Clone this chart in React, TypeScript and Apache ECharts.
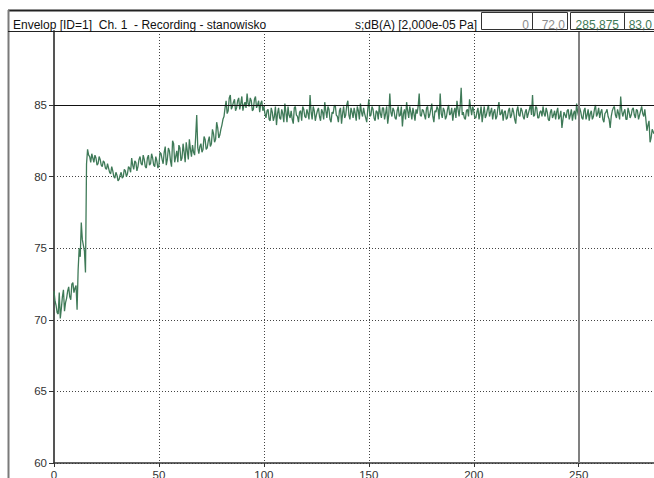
import React, { useEffect, useRef } from 'react';
import * as echarts from 'echarts';

// Envelope level in dB(A), readings on whole seconds (t = 0 .. 100)
const riseLevels = [
  72.0, 71.0, 70.4, 70.1, 71.6, 70.6, 71.5, 72.3, 71.4, 72.6, 72.2, 70.7, 75.0, 76.8, 75.2, 73.3, 81.9,
  81.4, 81.6, 81.0, 81.3, 80.9, 81.2, 80.7, 81.0, 80.5, 80.6, 80.2, 80.4, 79.9, 80.1,
  79.8, 80.3, 80.0, 80.4, 80.2, 80.6, 81.3, 80.5, 81.0, 80.7,
  81.4, 80.8, 81.2, 80.6, 81.5, 80.9, 81.3, 80.7, 81.1, 80.8,
  81.6, 80.9, 82.1, 81.2, 81.8, 80.7, 82.3, 81.4, 81.0, 82.0, 81.3, 81.7, 82.4, 81.2, 81.9, 82.2, 81.5, 84.3,
  81.6, 82.3, 81.9, 82.6, 82.0, 82.8, 82.3, 83.0, 82.6, 83.4, 82.9, 83.6,
  84.2, 85.3, 84.6, 85.7, 84.9, 85.4,
  84.8, 85.5, 85.1, 84.6, 85.2, 85.8, 84.9, 85.3, 84.7, 85.6, 85.0, 84.5, 85.3, 84.9,
];
// whole seconds t = 101 .. 285
const plateauLevels = [
  84.1, 84.7, 83.9, 84.5, 84.2, 83.6, 84.8, 84.0, 84.4, 85.1, 83.8, 84.3, 84.6, 83.7, 84.9, 84.2, 84.5, 83.9, 84.7, 84.1, 84.4, 85.7, 84.0, 84.6, 84.3,
  84.8, 83.9, 84.5, 85.2, 84.1, 84.7, 83.8, 84.4, 85.0, 84.2, 84.6, 83.7, 84.9, 84.3, 85.3, 84.0, 84.5, 84.8, 83.9, 84.6, 85.1, 84.2, 84.4, 83.8, 85.4,
  84.3, 84.7, 83.9, 84.5, 85.0, 84.1, 84.8, 84.4, 83.7, 85.8, 84.2, 84.6, 84.0, 84.9, 84.3, 83.5, 84.7, 85.2, 84.1, 84.5, 84.8, 83.9, 84.4, 85.8, 84.2,
  84.6, 84.0, 84.9, 84.3, 85.1, 83.8, 84.5, 84.7, 85.8, 84.1, 84.6, 84.2, 85.0, 84.4, 83.9, 84.8, 85.3, 84.2, 86.2, 84.5, 84.0, 84.7, 85.4, 84.3, 84.6,
  84.1, 84.8, 84.4, 83.8, 84.9, 84.3, 85.0, 84.5, 84.0, 84.7, 84.2, 85.2, 84.4, 83.9, 84.6, 84.1, 84.8, 84.3, 84.5, 83.7, 84.9, 84.2, 84.6, 84.0, 84.7,
  84.4, 85.0, 85.7, 84.3, 84.8, 84.1, 84.6, 84.9, 84.2, 84.5, 83.9, 84.7, 84.3, 84.0, 84.8, 84.2, 83.4, 84.5, 84.1, 84.7, 84.3, 83.9, 84.6, 85.1, 84.2,
  84.5, 84.0, 84.8, 84.3, 83.9, 84.6, 84.2, 85.0, 84.4, 84.1, 84.7, 83.8, 84.5, 84.2, 83.4, 84.6, 84.9, 84.1, 84.4, 85.6, 84.2, 84.7, 84.0, 84.5, 84.3,
  84.8, 84.1, 84.6, 84.3, 84.9, 84.2, 84.0, 83.6, 82.4, 83.3,
];
// half-second readings t = 0.5 .. 284.5
const midLevels = [
  71.3, 70.5, 71.9, 70.8, 72.1, 71.2, 72.0, 71.6, 72.5, 71.9, 72.4, 73.5, 74.4, 75.6, 74.8, 80.9, 81.5,
  81.0, 81.3, 81.5, 80.8, 81.4, 80.8, 81.1, 80.6, 80.9, 80.3, 80.7, 80.0, 80.3, 79.7,
  80.1, 79.9, 80.5, 80.0, 80.7, 80.3, 80.8, 81.1, 80.4, 81.2,
  80.9, 81.5, 80.7, 81.3, 80.8, 81.6, 80.8, 81.4, 80.6, 81.7,
  81.2, 81.7, 80.8, 82.0, 81.1, 82.5, 81.0, 81.8, 82.2, 81.1, 82.3, 81.0, 81.8, 82.6, 81.4, 81.7, 82.8, 82.0,
  82.1, 81.7, 82.8, 81.9, 82.5, 82.1, 83.3, 82.4, 83.8, 82.7, 83.3, 84.0,
  84.8, 84.4, 85.5, 84.7, 85.2, 84.6,
  85.3, 84.7, 85.6, 85.0, 84.8, 85.1, 85.5, 84.6, 85.4, 84.8, 85.3, 85.1, 84.6, 84.4,
  84.6, 84.0, 84.8, 83.9, 84.9, 84.4, 84.1, 84.7, 83.8, 84.5, 84.9, 84.1, 84.0, 84.8, 84.3, 83.8, 84.6, 84.9, 84.2, 84.7, 84.0, 84.5, 84.9, 83.9, 84.6,
  84.2, 84.7, 84.0, 84.6, 84.9, 84.0, 84.5, 84.9, 84.3, 83.8, 84.8, 84.4, 84.1, 85.0, 84.3, 84.8, 84.1, 84.4, 84.9, 84.0, 84.5, 84.8, 84.1, 84.7, 84.2,
  84.9, 84.1, 84.6, 84.0, 84.4, 84.8, 84.0, 84.9, 84.3, 84.5, 84.8, 84.1, 84.6, 84.2, 84.9, 84.4, 84.0, 84.6, 84.9, 84.0, 84.4, 84.7, 84.9, 84.3, 84.7,
  84.3, 84.8, 84.1, 84.7, 84.2, 84.6, 84.9, 84.0, 84.4, 84.8, 84.0, 84.7, 84.3, 84.8, 84.5, 84.1, 84.7, 84.9, 84.3, 84.1, 84.6, 84.2, 84.8, 84.9, 84.1,
  84.5, 84.0, 84.9, 84.4, 84.1, 84.7, 84.2, 84.8, 84.5, 84.0, 84.8, 84.3, 84.7, 84.5, 84.0, 84.6, 84.1, 84.8, 84.0, 84.6, 84.3, 84.8, 84.2, 84.5, 84.1,
  84.7, 84.3, 84.2, 84.9, 84.1, 84.5, 84.2, 84.4, 84.8, 84.0, 84.5, 84.1, 84.6, 84.5, 84.0, 84.6, 84.0, 84.3, 84.6, 84.0, 84.7, 84.4, 84.0, 84.5, 84.8,
  84.1, 84.6, 84.0, 84.7, 84.4, 84.0, 84.7, 84.2, 84.8, 84.5, 84.0, 84.4, 84.7, 84.0, 84.2, 84.8, 84.3, 84.7, 84.0, 84.6, 84.5, 84.0, 84.8, 84.1, 84.7,
  84.3, 84.7, 84.0, 84.6, 84.4, 84.7, 83.2, 83.9, 82.7,
];
const endTime = 285.875;
const endLevel = 83.0;

const xTicks = [0, 50, 100, 150, 200, 250];
const yTicks = [60, 65, 70, 75, 80, 85];
const cursorTime = 250;
const referenceLevel = 85;

const headerTitle = 'Envelop [ID=1]  Ch. 1  - Recording - stanowisko';
const headerUnit = 's;dB(A) [2,000e-05 Pa]';
const cursorA = ['0', '72,0'];
const cursorB = ['285,875', '83,0'];

const FONT = '"Liberation Sans", Arial, sans-serif';
const GREEN = '#3f7a58';

export default function App() {
  const ref = useRef<HTMLDivElement>(null);
  useEffect(() => {
    if (!ref.current) return;
    const chart = echarts.init(ref.current, null, { renderer: 'svg' });
    const levels = riseLevels.concat(plateauLevels);
    const data: number[][] = [];
    levels.forEach((v, i) => {
      data.push([i, v]);
      if (i < midLevels.length) data.push([i + 0.5, midLevels[i]]);
    });
    data.push([endTime, endLevel]);

    const txt = (x: number, text: string, align: string, fill: string) => ({
      type: 'text',
      x,
      y: 24.5,
      style: { text, fill, font: `12px ${FONT}`, align, verticalAlign: 'middle' },
      z: 10,
    });
    const ln = (x1: number, y1: number, x2: number, y2: number, stroke: string, lineWidth: number) => ({
      type: 'line',
      shape: { x1, y1, x2, y2 },
      style: { stroke, lineWidth },
      z: 10,
    });

    chart.setOption({
      animation: false,
      backgroundColor: '#ffffff',
      grid: { left: 54, top: 31, right: 0, bottom: 15, containLabel: false, outerBoundsMode: 'none' },
      xAxis: {
        type: 'value',
        min: 0,
        max: endTime,
        interval: 50,
        axisLine: { show: true, onZero: false, lineStyle: { color: '#333', width: 1.5 } },
        axisTick: { show: true, length: 4, customValues: xTicks, lineStyle: { color: '#333' } },
        axisLabel: { customValues: xTicks, margin: 6, color: '#333', fontFamily: FONT, fontSize: 11.5 },
        splitLine: { show: true, lineStyle: { color: '#444', type: [1, 2], width: 1 } },
      },
      yAxis: {
        type: 'value',
        min: 60,
        max: 90.17,
        interval: 5,
        axisLine: { show: true, lineStyle: { color: '#555', width: 2 } },
        axisTick: { show: true, length: 5, customValues: yTicks, lineStyle: { color: '#333' } },
        axisLabel: { customValues: yTicks, margin: 7, color: '#333', fontFamily: FONT, fontSize: 11.5 },
        splitLine: { show: true, lineStyle: { color: '#444', type: [1, 2], width: 1 } },
      },
      series: [
        {
          type: 'line',
          data,
          showSymbol: false,
          symbol: 'none',
          lineStyle: { color: GREEN, width: 1.3 },
          clip: true,
          markLine: {
            silent: true,
            symbol: 'none',
            label: { show: false },
            data: [
              { yAxis: referenceLevel, lineStyle: { color: '#111', width: 1, type: 'solid' } },
              { xAxis: cursorTime, lineStyle: { color: '#808080', width: 2, type: 'solid' } },
            ],
          },
        },
      ],
      graphic: [
        ln(8, 10.5, 654, 10.5, '#222', 2),
        ln(8.5, 10, 8.5, 478, '#7a7a7a', 2),
        ln(8, 31.5, 654, 31.5, '#222', 1),
        txt(13, headerTitle, 'left', '#111'),
        txt(477, headerUnit, 'right', '#111'),
        { type: 'rect', shape: { x: 481.5, y: 12.5, width: 86, height: 17 }, style: { fill: 'none', stroke: '#333', lineWidth: 1 }, z: 10 },
        ln(532.5, 12.5, 532.5, 29.5, '#333', 1),
        { type: 'rect', shape: { x: 570.5, y: 12.5, width: 54, height: 17 }, style: { fill: 'none', stroke: '#333', lineWidth: 1 }, z: 10 },
        { type: 'rect', shape: { x: 624.5, y: 12.5, width: 40, height: 17 }, style: { fill: 'none', stroke: '#333', lineWidth: 1 }, z: 10 },
        txt(529, cursorA[0], 'right', '#8c8c8c'),
        txt(565, cursorA[1], 'right', '#8c8c8c'),
        txt(619, cursorB[0], 'right', GREEN),
        txt(652, cursorB[1], 'right', GREEN),
      ],
    });
    return () => chart.dispose();
  }, []);
  return <div ref={ref} style={{ position: 'fixed', left: 0, top: 0, width: 654, height: 478 }} />;
}
